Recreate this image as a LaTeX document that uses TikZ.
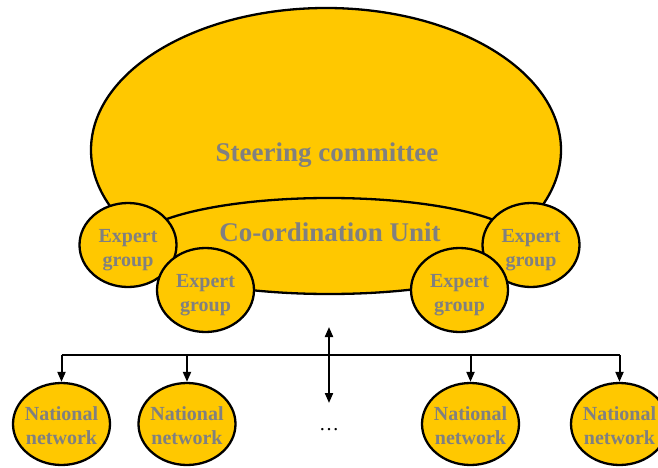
\documentclass[tikz,border=0pt]{standalone}
\usepackage{fontspec}
\setmainfont{Liberation Serif}
\usetikzlibrary{shapes.geometric,arrows.meta}
\definecolor{fillY}{RGB}{255,200,0}
\definecolor{txtG}{RGB}{128,128,128}
\begin{document}
\begin{tikzpicture}[x=1pt,y=-1pt,
  blob/.style={ellipse,draw=black,line width=2.3pt,fill=fillY,inner sep=0pt},
  bigtxt/.style={text=txtG,font=\fontsize{27}{32}\selectfont\bfseries,inner sep=0pt},
  smalltxt/.style={text=txtG,font=\fontsize{20}{24}\selectfont\bfseries,align=center,inner sep=0pt},
  expert/.style={blob,minimum width=97pt,minimum height=84pt,
    label={[smalltxt,yshift=-5pt]center:Expert\\group}},
  natnet/.style={blob,minimum width=97pt,minimum height=82pt,
    label={[smalltxt,yshift=-2pt]center:National\\network}},
  conn/.style={line width=2pt,draw=black},
  arr/.style={conn,-{Triangle[length=10pt,width=8pt]}},
  darr/.style={conn,{Triangle[length=10pt,width=8pt]}-{Triangle[length=10pt,width=8pt]}}
]
\useasboundingbox (0,0) rectangle (658,468);
\clip (0,0) rectangle (658,468);

\node[blob,minimum width=470pt,minimum height=284pt] (steer) at (326,150) {};
\node[bigtxt] (steertxt) at (327,155) {Steering committee};

\node[blob,minimum width=392pt,minimum height=96pt] (coord) at (329,246) {};
\node[bigtxt] (coordtxt) at (330,232) {Co-ordination Unit};

\node[expert] (e1) at (128,245) {};
\node[expert] (e2) at (205.5,290) {};
\node[expert] (e3) at (531,245) {};
\node[expert] (e4) at (459.5,290) {};

\node[natnet] (n1) at (61.5,424) {};
\node[natnet] (n2) at (187,424) {};
\node[natnet] (n3) at (470.5,424) {};
\node[natnet] (n4) at (619.5,424) {};

\coordinate (bus) at (329,355);
\coordinate (up) at (329,327);
\coordinate (down) at (329,403);

\draw[conn,line width=2.4pt] (n1.north |- bus) -- (n4.north |- bus);
\draw[arr] (n1.north |- bus) -- (n1.north);
\draw[arr] (n2.north |- bus) -- (n2.north);
\draw[arr] (n3.north |- bus) -- (n3.north);
\draw[arr] (n4.north |- bus) -- (n4.north);
\draw[darr] (up) -- (down);

\node[font=\fontsize{20}{24}\selectfont] (dots) at (329,430) {…};
\end{tikzpicture}
\end{document}
